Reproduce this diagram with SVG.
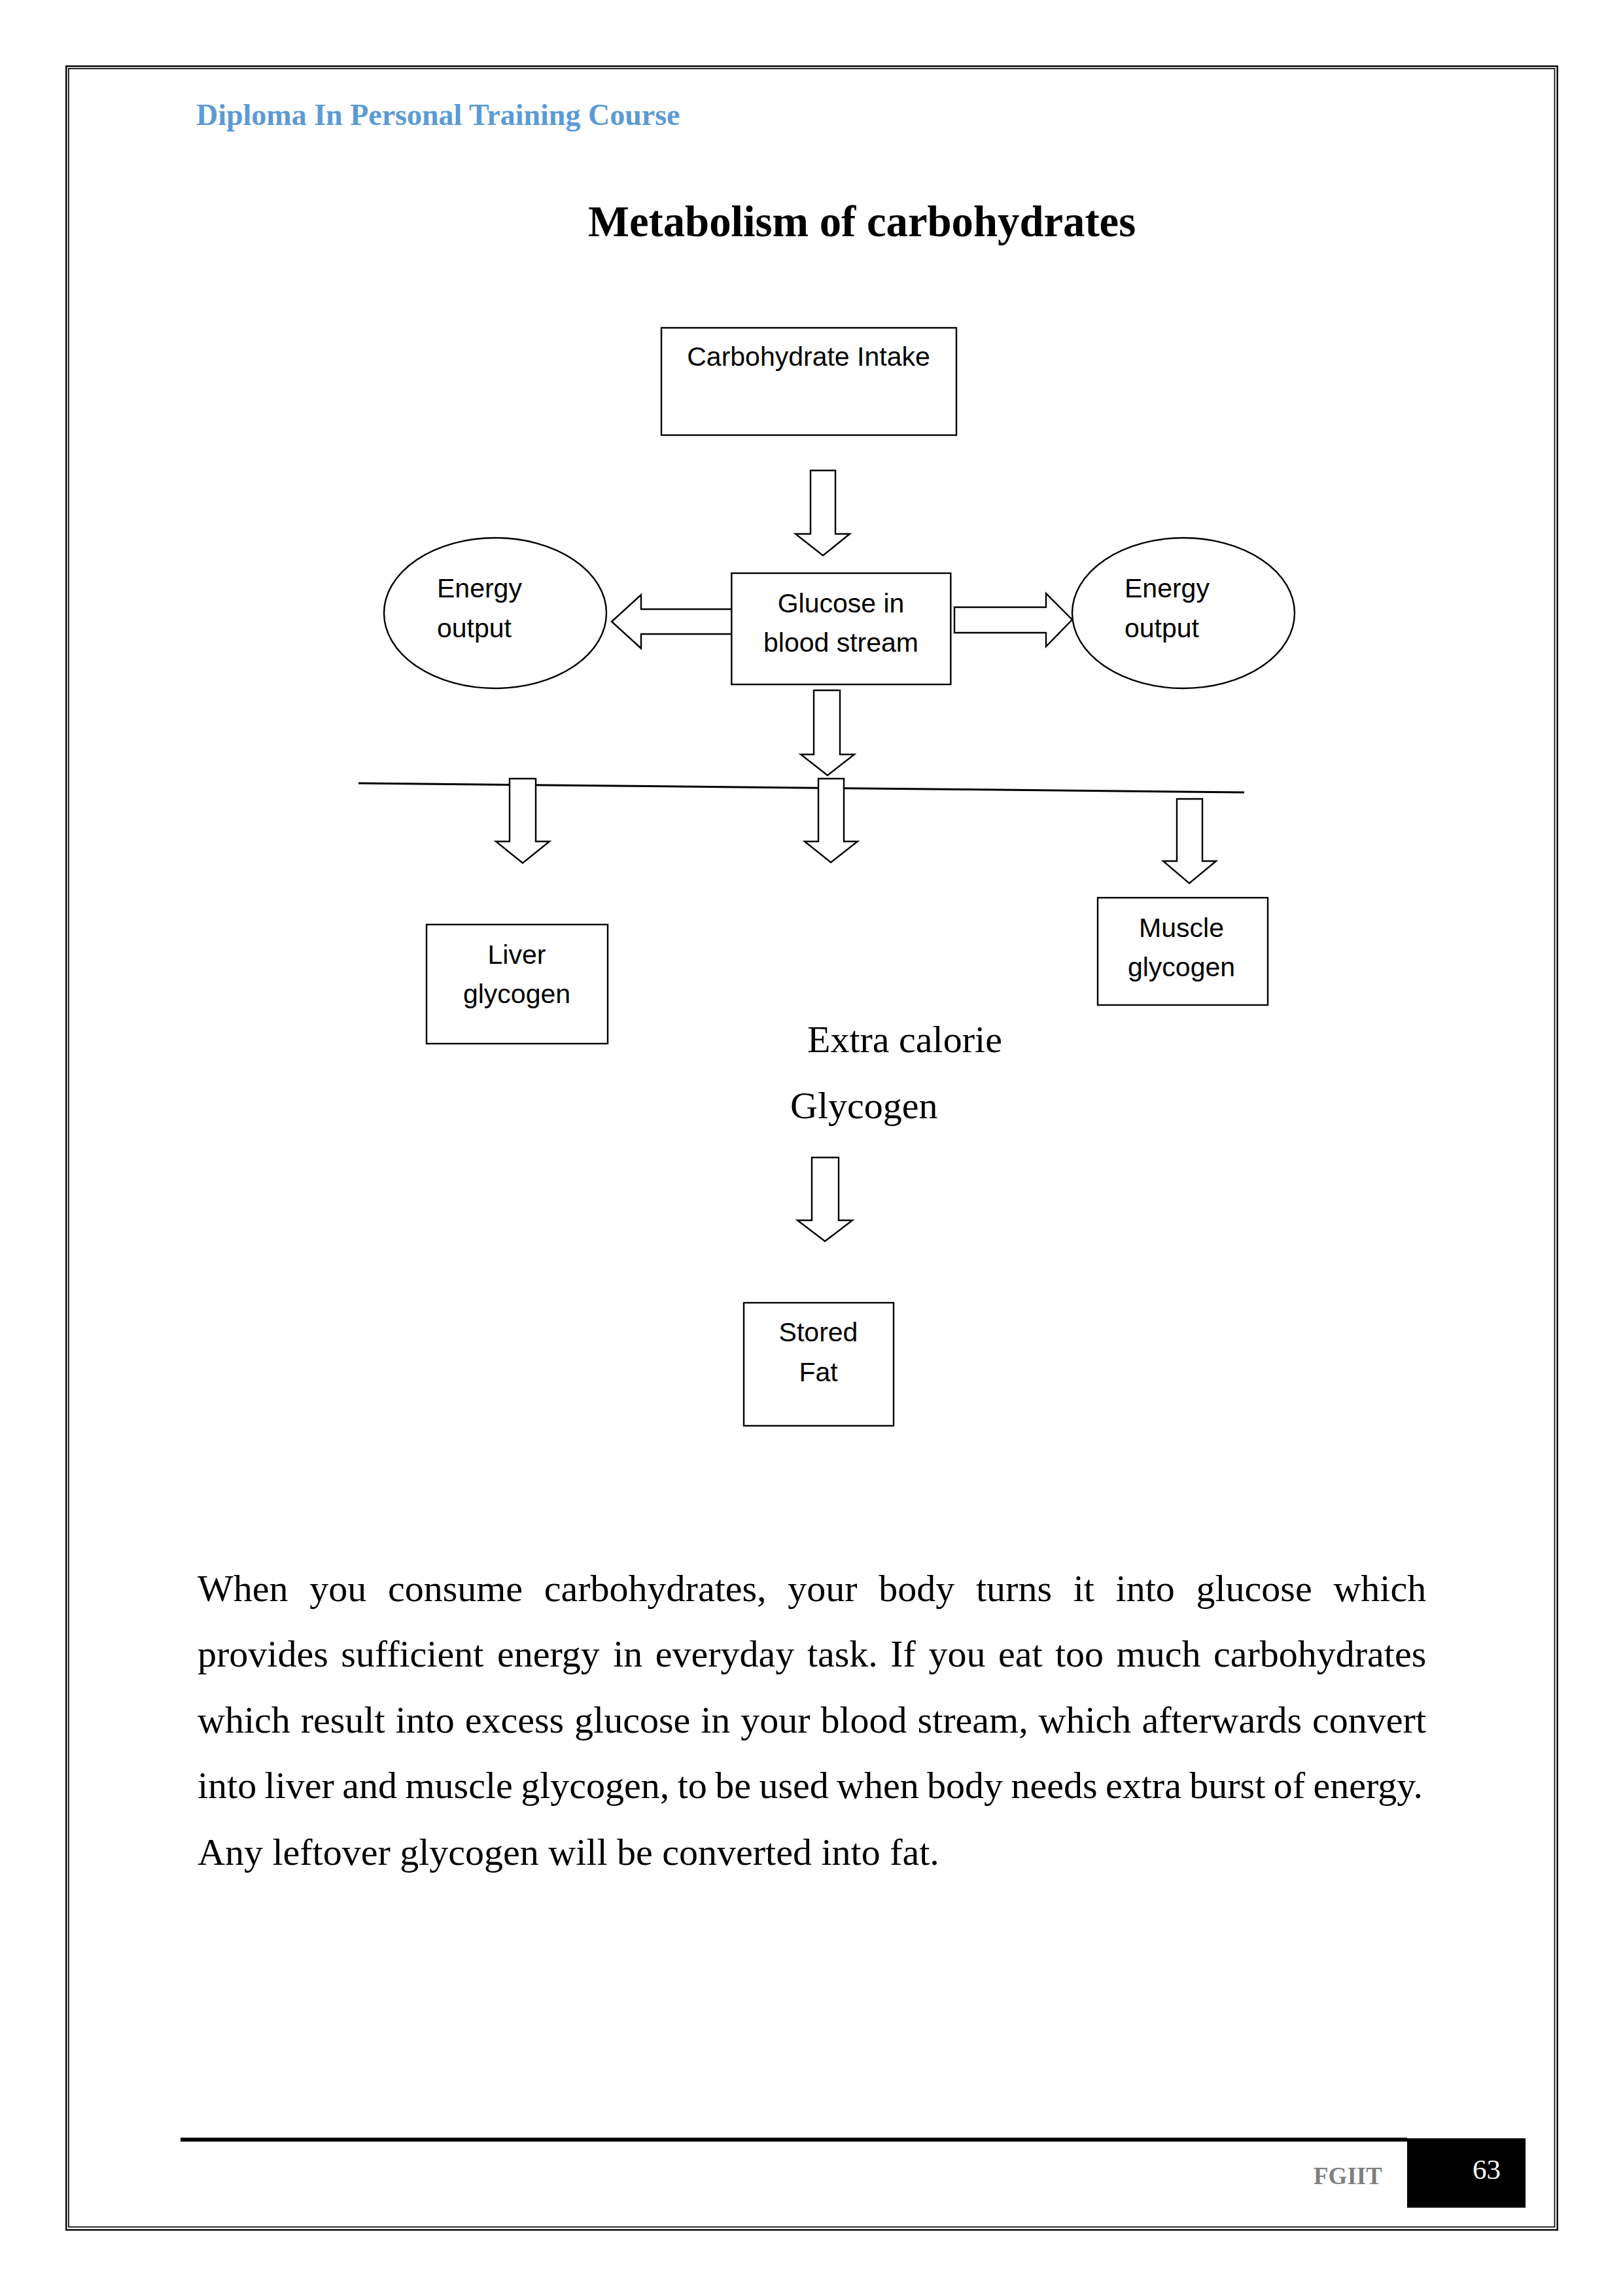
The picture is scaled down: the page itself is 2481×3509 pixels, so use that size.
<svg xmlns="http://www.w3.org/2000/svg" width="2481" height="3509" viewBox="0 0 2481 3509">
<style>
.serif{font-family:"Liberation Serif","Times New Roman",serif;}
.sans{font-family:"Liberation Sans",Arial,sans-serif;font-size:41px;fill:#000;}
.body{font-family:"Liberation Serif","Times New Roman",serif;font-size:58px;fill:#000;}
.box{fill:#fff;stroke:#000;stroke-width:2.4;}
.arrow{fill:#fff;stroke:#000;stroke-width:2.4;stroke-linejoin:miter;}
</style>
<rect width="2481" height="3509" fill="#fff"/>
<g id="page-border" fill="none" stroke="#000">
<rect x="101.2" y="101.2" width="2279.5" height="3306.8" stroke-width="2.4"/>
<rect x="104.8" y="104.8" width="2271.7" height="3298.7" stroke-width="1.7"/>
</g>
<text id="header" class="serif" x="300" y="191" font-size="46" font-weight="bold" fill="#5B9BD5">Diploma In Personal Training Course</text>
<text id="title" class="serif" x="899" y="361" font-size="66.7" font-weight="bold" fill="#000">Metabolism of carbohydrates</text>

<g id="connectors">
<line x1="548" y1="1197" x2="1902" y2="1211" stroke="#000" stroke-width="3"/>
<polygon class="arrow" points="1239,719 1277,719 1277,816 1299,816 1258,849 1216,816 1239,816"/>
<polygon class="arrow" points="1119,931 1119,969 980,969 980,991 935,950 980,909 980,931"/>
<polygon class="arrow" points="1459,928 1599,928 1599,907 1639,947 1599,988 1599,967 1459,967"/>
<polygon class="arrow" points="1244,1055 1284,1055 1284,1153 1306,1153 1265,1185 1224,1153 1244,1153"/>
<polygon class="arrow" points="779,1190 819,1190 819,1286 840,1286 799,1319 758,1286 779,1286"/>
<polygon class="arrow" points="1251,1190 1290,1190 1290,1286 1311,1286 1270,1318 1230,1286 1251,1286"/>
<polygon class="arrow" points="1799,1221 1838,1221 1838,1316 1859,1316 1818,1350 1778,1316 1799,1316"/>
<polygon class="arrow" points="1241,1769 1282,1769 1282,1865 1303,1865 1261,1897 1219,1865 1241,1865"/>
</g>

<g id="carbohydrate-intake">
<rect class="box" x="1011" y="501" width="451" height="164"/>
<text class="sans" x="1236" y="559" text-anchor="middle">Carbohydrate Intake</text>
</g>
<g id="glucose">
<rect class="box" x="1118.3" y="876" width="335" height="170"/>
<text class="sans" x="1285.5" y="936" text-anchor="middle">Glucose in</text>
<text class="sans" x="1285.5" y="996" text-anchor="middle">blood stream</text>
</g>
<g id="energy-left">
<ellipse class="box" cx="757" cy="937" rx="170" ry="115"/>
<text class="sans" x="668" y="913">Energy</text>
<text class="sans" x="668" y="974">output</text>
</g>
<g id="energy-right">
<ellipse class="box" cx="1809" cy="937" rx="170" ry="115"/>
<text class="sans" x="1719" y="913">Energy</text>
<text class="sans" x="1719" y="974">output</text>
</g>
<g id="liver-glycogen">
<rect class="box" x="652" y="1413" width="277" height="182"/>
<text class="sans" x="790" y="1473" text-anchor="middle">Liver</text>
<text class="sans" x="790" y="1533" text-anchor="middle">glycogen</text>
</g>
<g id="muscle-glycogen">
<rect class="box" x="1678" y="1372" width="260" height="164"/>
<text class="sans" x="1806" y="1432" text-anchor="middle">Muscle</text>
<text class="sans" x="1806" y="1492" text-anchor="middle">glycogen</text>
</g>
<g id="extra-calorie">
<text class="body" x="1234" y="1608">Extra calorie</text>
<text class="body" x="1208" y="1709">Glycogen</text>
</g>
<g id="stored-fat">
<rect class="box" x="1137" y="1991" width="229" height="188"/>
<text class="sans" x="1251" y="2050" text-anchor="middle">Stored</text>
<text class="sans" x="1251" y="2111" text-anchor="middle">Fat</text>
</g>

<g id="paragraph">
<text class="body" y="2447"><tspan x="302">When</tspan><tspan x="473.2">you</tspan><tspan x="592.9">consume</tspan><tspan x="831.8">carbohydrates,</tspan><tspan x="1204.3">your</tspan><tspan x="1343.3">body</tspan><tspan x="1492">turns</tspan><tspan x="1640.7">it</tspan><tspan x="1705.6">into</tspan><tspan x="1828.5">glucose</tspan><tspan x="2038.4">which</tspan></text>
<text class="body" y="2547"><tspan x="302">provides</tspan><tspan x="521.3">sufficient</tspan><tspan x="759.9">energy</tspan><tspan x="937.2">in</tspan><tspan x="1001.8">everyday</tspan><tspan x="1233.9">task.</tspan><tspan x="1361.3">If</tspan><tspan x="1419.4">you</tspan><tspan x="1525.9">eat</tspan><tspan x="1613">too</tspan><tspan x="1706.6">much</tspan><tspan x="1855">carbohydrates</tspan></text>
<text class="body" y="2648"><tspan x="302">which</tspan><tspan x="459.7">result</tspan><tspan x="604.6">into</tspan><tspan x="710.7">excess</tspan><tspan x="878.1">glucose</tspan><tspan x="1071.2">in</tspan><tspan x="1132.3">your</tspan><tspan x="1254.5">blood</tspan><tspan x="1402.6">stream,</tspan><tspan x="1587.6">which</tspan><tspan x="1745.4">afterwards</tspan><tspan x="2006.1">convert</tspan></text>
<text class="body" y="2748"><tspan x="302">into</tspan><tspan x="404.6">liver</tspan><tspan x="523.3">and</tspan><tspan x="619.5">muscle</tspan><tspan x="796.2">glycogen,</tspan><tspan x="1035.7">to</tspan><tspan x="1093.2">be</tspan><tspan x="1160.4">used</tspan><tspan x="1279.1">when</tspan><tspan x="1417.1">body</tspan><tspan x="1545.5">needs</tspan><tspan x="1690">extra</tspan><tspan x="1818.3">burst</tspan><tspan x="1946.7">of</tspan><tspan x="2007.4">energy.</tspan></text>
<text class="body" x="302" y="2850">Any leftover glycogen will be converted into fat.</text>
</g>

<g id="footer">
<rect x="276" y="3267" width="1875" height="6" fill="#000"/>
<rect x="2151" y="3268" width="181" height="106" fill="#000"/>
<text class="serif" x="2008" y="3338" font-size="37" font-weight="bold" fill="#7F7F7F">FGIIT</text>
<text class="serif" x="2251" y="3330" font-size="43" fill="#fff">63</text>
</g>
</svg>
